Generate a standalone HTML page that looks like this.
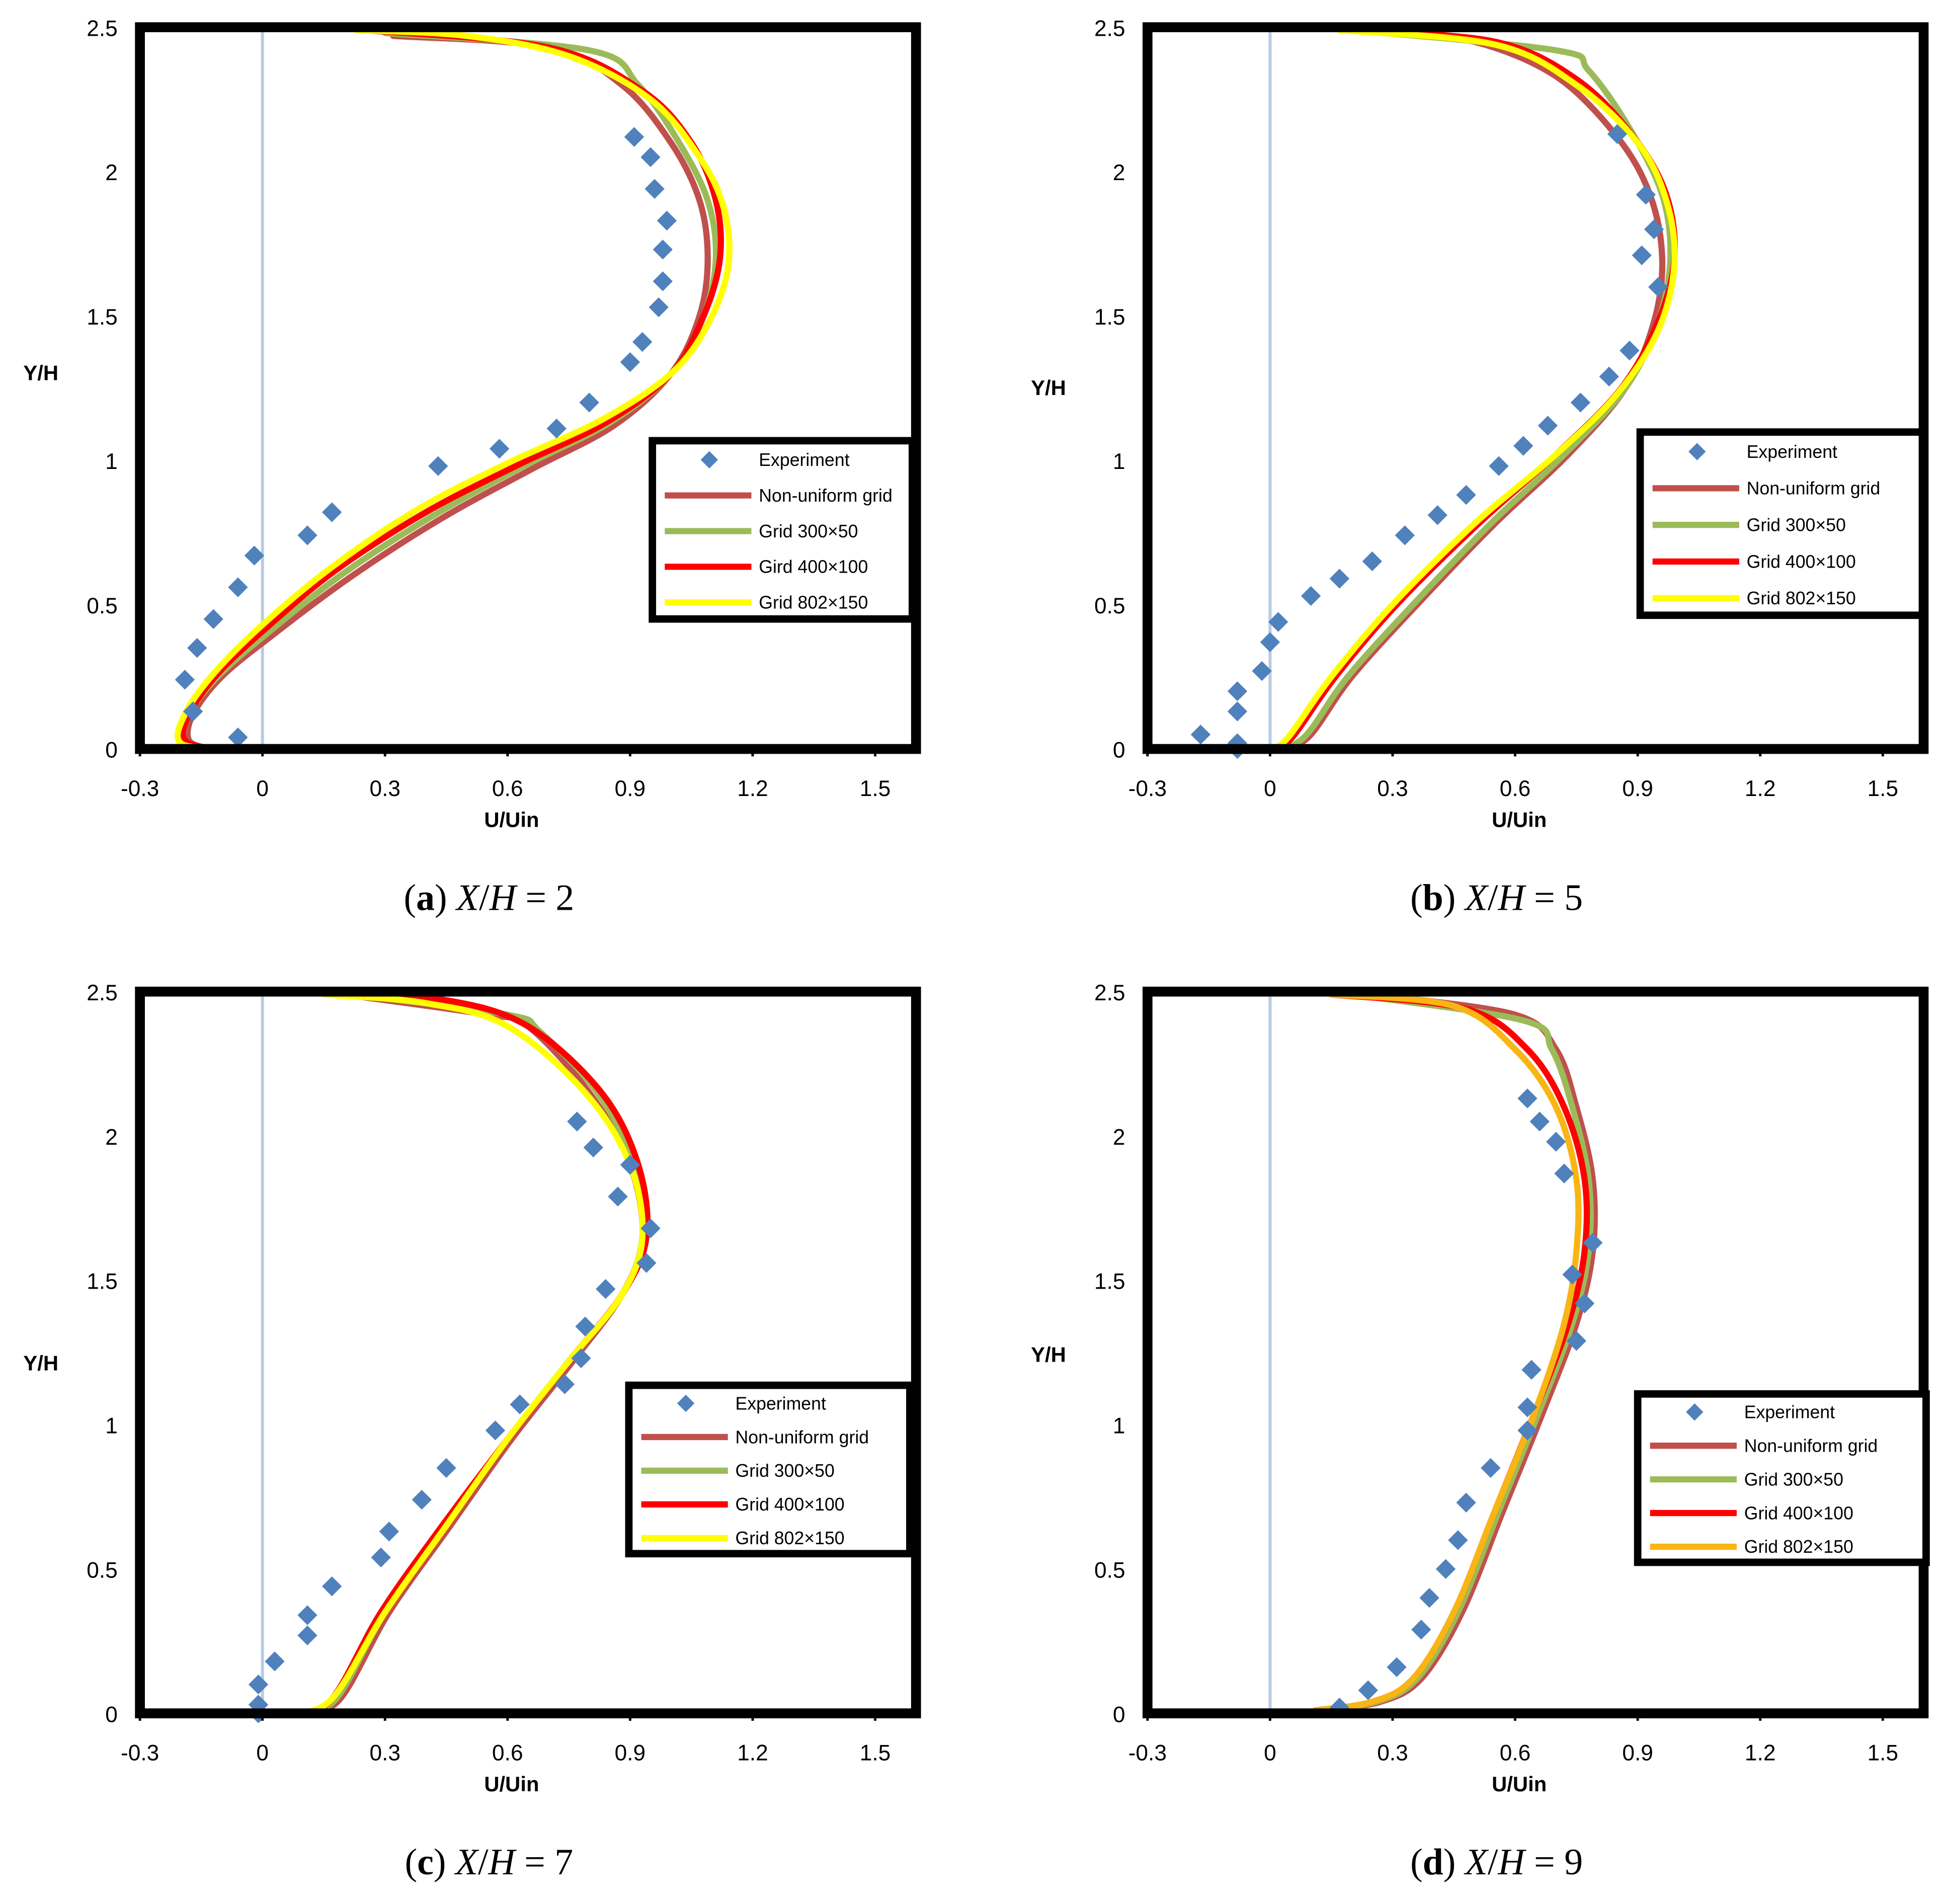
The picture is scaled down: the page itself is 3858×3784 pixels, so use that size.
<!DOCTYPE html>
<html><head><meta charset="utf-8"><style>
html,body{margin:0;padding:0;background:#fff}
svg{display:block}
</style></head><body>
<svg id="fig" width="3858" height="3784" viewBox="0 0 1568 1538" xmlns="http://www.w3.org/2000/svg" font-family="Liberation Sans, sans-serif"></svg>
<script>
const xTicks=[-0.3,0,0.3,0.6,0.9,1.2,1.5];
const yTicks=[0,0.5,1,1.5,2,2.5];
const yTickLabels=["0","0.5","1","1.5","2","2.5"];
const seriesNames=["Non-uniform grid","Grid 300×50","Gird 400×100","Grid 802×150"];
const seriesNamesC=["Non-uniform grid","Grid 300×50","Grid 400×100","Grid 802×150"];
const captionX=["2","5","7","9"];

// Panel a
const expA=[[-0.06,0.04],[-0.17,0.13],[-0.19,0.24],[-0.16,0.35],[-0.12,0.45],[-0.06,0.56],[-0.02,0.67],[0.11,0.74],[0.17,0.82],[0.43,0.98],[0.58,1.04],[0.72,1.11],[0.8,1.2],[0.9,1.34],[0.93,1.41],[0.97,1.53],[0.98,1.62],[0.98,1.73],[0.99,1.83],[0.96,1.94],[0.95,2.05],[0.91,2.12]];
const nuA=[[-0.13,0.0],[-0.18,0.03],[-0.17,0.12],[-0.1,0.25],[0.03,0.4],[0.22,0.6],[0.44,0.8],[0.66,0.97],[0.86,1.12],[1.0,1.3],[1.07,1.5],[1.09,1.7],[1.07,1.9],[1.0,2.1],[0.88,2.3],[0.7,2.43],[0.32,2.47]];
const g300A=[[-0.13,0.0],[-0.19,0.03],[-0.18,0.12],[-0.11,0.25],[0.02,0.41],[0.2,0.61],[0.42,0.81],[0.64,0.98],[0.85,1.13],[1.0,1.3],[1.08,1.5],[1.11,1.7],[1.09,1.9],[1.02,2.1],[0.92,2.3],[0.8,2.42],[0.3,2.48]];
const g400A=[[-0.12,0.0],[-0.19,0.03],[-0.18,0.12],[-0.11,0.26],[0.01,0.42],[0.18,0.62],[0.4,0.82],[0.62,0.98],[0.84,1.13],[1.0,1.3],[1.08,1.5],[1.12,1.7],[1.11,1.9],[1.05,2.1],[0.93,2.28],[0.7,2.43],[0.25,2.49]];
const g802A=[[-0.09,0.0],[-0.2,0.02],[-0.19,0.12],[-0.12,0.26],[0.0,0.43],[0.17,0.63],[0.38,0.83],[0.6,0.99],[0.83,1.14],[1.0,1.3],[1.09,1.47],[1.14,1.67],[1.13,1.87],[1.07,2.05],[0.95,2.25],[0.75,2.4],[0.5,2.47],[0.23,2.49]];
// Panel b
const expB=[[-0.17,0.05],[-0.08,0.0],[-0.08,0.02],[-0.08,0.13],[-0.08,0.2],[-0.02,0.27],[0.0,0.37],[0.02,0.44],[0.1,0.53],[0.17,0.59],[0.25,0.65],[0.33,0.74],[0.41,0.81],[0.48,0.88],[0.56,0.98],[0.62,1.05],[0.68,1.12],[0.76,1.2],[0.83,1.29],[0.88,1.38],[0.95,1.6],[0.91,1.71],[0.94,1.8],[0.92,1.92],[0.85,2.13]];
const nuB=[[0.04,0.0],[0.1,0.05],[0.2,0.25],[0.36,0.5],[0.55,0.78],[0.73,1.02],[0.87,1.25],[0.94,1.48],[0.96,1.7],[0.93,1.92],[0.85,2.12],[0.7,2.33],[0.5,2.45],[0.3,2.48]];
const g300B=[[0.03,0.0],[0.09,0.05],[0.19,0.25],[0.35,0.5],[0.54,0.78],[0.72,1.02],[0.87,1.25],[0.95,1.48],[0.98,1.7],[0.96,1.92],[0.88,2.15],[0.78,2.35],[0.7,2.42],[0.2,2.49]];
const g400B=[[0.02,0.0],[0.06,0.05],[0.16,0.25],[0.31,0.5],[0.51,0.78],[0.7,1.02],[0.86,1.25],[0.95,1.48],[0.99,1.7],[0.97,1.92],[0.89,2.12],[0.75,2.32],[0.55,2.45],[0.2,2.49]];
const g802B=[[0.01,0.0],[0.05,0.05],[0.15,0.25],[0.3,0.5],[0.5,0.78],[0.7,1.02],[0.85,1.23],[0.95,1.45],[0.99,1.68],[0.97,1.9],[0.9,2.1],[0.75,2.3],[0.55,2.44],[0.17,2.49]];
// Panel c
const expC=[[-0.01,0.0],[-0.01,0.03],[-0.01,0.1],[0.03,0.18],[0.11,0.27],[0.11,0.34],[0.17,0.44],[0.29,0.54],[0.31,0.63],[0.39,0.74],[0.45,0.85],[0.57,0.98],[0.63,1.07],[0.74,1.14],[0.78,1.23],[0.79,1.34],[0.84,1.47],[0.94,1.56],[0.95,1.68],[0.87,1.79],[0.9,1.9],[0.81,1.96],[0.77,2.05]];
const nuC=[[0.1,0.0],[0.19,0.05],[0.31,0.35],[0.46,0.65],[0.61,0.95],[0.76,1.22],[0.88,1.45],[0.93,1.65],[0.9,1.9],[0.8,2.15],[0.65,2.38],[0.55,2.42],[0.25,2.48]];
const g300C=[[0.09,0.0],[0.18,0.05],[0.3,0.35],[0.45,0.65],[0.6,0.95],[0.75,1.22],[0.88,1.45],[0.93,1.65],[0.91,1.9],[0.82,2.15],[0.68,2.36],[0.6,2.42],[0.22,2.49]];
const g400C=[[0.08,0.0],[0.17,0.05],[0.29,0.35],[0.44,0.65],[0.6,0.95],[0.75,1.22],[0.88,1.45],[0.94,1.65],[0.92,1.9],[0.83,2.15],[0.65,2.38],[0.45,2.47],[0.2,2.49]];
const g802C=[[0.07,0.0],[0.17,0.05],[0.3,0.35],[0.45,0.65],[0.6,0.95],[0.75,1.22],[0.88,1.45],[0.93,1.65],[0.9,1.9],[0.79,2.15],[0.6,2.38],[0.4,2.46],[0.15,2.49]];
// Panel d
const expD=[[0.17,0.02],[0.24,0.08],[0.31,0.16],[0.37,0.29],[0.39,0.4],[0.43,0.5],[0.46,0.6],[0.48,0.73],[0.54,0.85],[0.63,0.98],[0.63,1.06],[0.64,1.19],[0.75,1.29],[0.77,1.42],[0.74,1.52],[0.79,1.63],[0.72,1.87],[0.7,1.98],[0.66,2.05],[0.63,2.13]];
const nuD=[[0.13,0.01],[0.27,0.04],[0.37,0.12],[0.47,0.35],[0.57,0.7],[0.67,1.05],[0.75,1.35],[0.79,1.6],[0.79,1.85],[0.75,2.1],[0.7,2.3],[0.6,2.42],[0.25,2.49]];
const g300D=[[0.12,0.01],[0.26,0.04],[0.36,0.12],[0.46,0.35],[0.56,0.7],[0.66,1.05],[0.74,1.35],[0.78,1.6],[0.78,1.85],[0.74,2.1],[0.69,2.3],[0.62,2.4],[0.2,2.49]];
const g400D=[[0.11,0.01],[0.25,0.04],[0.35,0.12],[0.45,0.35],[0.55,0.7],[0.65,1.05],[0.73,1.35],[0.77,1.6],[0.77,1.85],[0.72,2.1],[0.63,2.3],[0.48,2.44],[0.15,2.49]];
const g802D=[[0.11,0.01],[0.25,0.04],[0.35,0.12],[0.45,0.35],[0.55,0.7],[0.65,1.05],[0.72,1.35],[0.75,1.6],[0.75,1.85],[0.7,2.1],[0.6,2.3],[0.45,2.45],[0.15,2.49]];

const NS="http://www.w3.org/2000/svg";
const svg=document.getElementById('fig');
function el(tag,attrs,parent){const e=document.createElementNS(NS,tag);for(const k in attrs)e.setAttribute(k,attrs[k]);(parent||svg).appendChild(e);return e;}

const panels=[
 {ox:0,oy:0,exp:expA,ser:[nuA,g300A,g400A,g802A],names:seriesNames,last:"#ffff00",leg:[527,356,737,500],yl:307},
 {ox:814,oy:0,exp:expB,ser:[nuB,g300B,g400B,g802B],names:seriesNamesC,last:"#ffff00",leg:[1325,349,1553,497],yl:319},
 {ox:0,oy:779,exp:expC,ser:[nuC,g300C,g400C,g802C],names:seriesNamesC,last:"#ffff00",leg:[508,1119,735,1255],yl:1107},
 {ox:814,oy:779,exp:expD,ser:[nuD,g300D,g400D,g802D],names:seriesNamesC,last:"#f9b514",leg:[1323,1126,1556,1262],yl:1100}
];
const colors=["#c0504d","#9bbb59","#ff0000"];

function smooth(pts){
 let d="M"+pts[0][0]+","+pts[0][1];
 for(let i=0;i<pts.length-1;i++){
  const p0=pts[i-1]||pts[i],p1=pts[i],p2=pts[i+1],p3=pts[i+2]||p2;
  const c1=[p1[0]+(p2[0]-p0[0])/6,p1[1]+(p2[1]-p0[1])/6];
  const c2=[p2[0]-(p3[0]-p1[0])/6,p2[1]-(p3[1]-p1[1])/6];
  d+=" C"+c1[0]+","+c1[1]+" "+c2[0]+","+c2[1]+" "+p2[0]+","+p2[1];
 }
 return d;
}

panels.forEach((p,pi)=>{
 const g=el('g',{});
 
 
 const X=v=>p.ox+113+(v+0.3)*330;
 const Y=v=>p.oy+605-v*233.2;
 const L=X(-0.3),R=X(1.6),T=Y(2.5),B=Y(0);
 const zl=el('line',{x1:X(0),x2:X(0),y1:T,y2:B,stroke:"#b8cce4","stroke-width":2.5},g);
 
 p.ser.forEach((s,si)=>{
  const pts=s.map(q=>[X(q[0]),Y(q[1])]);
  const path=el('path',{d:smooth(pts),fill:"none",stroke:si<3?colors[si]:p.last,"stroke-width":5,"stroke-linecap":"round"},g);
  
  
 });
 p.exp.forEach(q=>{
  const cx=X(q[0]),cy=Y(q[1]);
  const m=el('polygon',{points:`${cx},${cy-8} ${cx+8},${cy} ${cx},${cy+8} ${cx-8},${cy}`,fill:"#4f81bd"},g);
  
  
 });
 const fr=el('rect',{x:L,y:T,width:R-L,height:B-T,fill:"none",stroke:"#000","stroke-width":8},g);
 
 xTicks.forEach(t=>{
  el('line',{x1:X(t),x2:X(t),y1:B,y2:B+6,stroke:"#000","stroke-width":2},g);
  const tx=el('text',{x:X(t),y:B+38,"font-size":18,"text-anchor":"middle",fill:"#000"},g);
  tx.textContent=String(t);
  
 });
 yTicks.forEach((t,i)=>{
  const ty=el('text',{x:L-18,y:Y(t)+7,"font-size":18,"text-anchor":"end",fill:"#000"},g);
  ty.textContent=yTickLabels[i];
  
 });
 const xt=el('text',{x:X(0.61),y:B+63,"font-size":17,"font-weight":"bold","text-anchor":"middle"},g);
 xt.textContent="U/Uin";
 const yt=el('text',{x:p.ox+33,y:p.yl,"font-size":17,"font-weight":"bold","text-anchor":"middle"},g);
 yt.textContent="Y/H";
 const [lx1,ly1,lx2,ly2]=p.leg;
 const lg=el('g',{},g);
 
 el('rect',{x:lx1,y:ly1,width:lx2-lx1,height:ly2-ly1,fill:"#fff",stroke:"#000","stroke-width":6},lg);
 const step=(ly2-ly1)/5;
 const labels=["Experiment"].concat(p.names);
 labels.forEach((lab,i)=>{
  const cy=ly1+step*(i+0.5)+1;
  if(i===0){const cx=lx1+46;el('polygon',{points:`${cx},${cy-7} ${cx+7},${cy} ${cx},${cy+7} ${cx-7},${cy}`,fill:"#4f81bd"},lg);}
  else el('line',{x1:lx1+10,x2:lx1+80,y1:cy,y2:cy,stroke:i<4?colors[i-1]:p.last,"stroke-width":5},lg);
  const t=el('text',{x:lx1+86,y:cy+5,"font-size":14.5},lg);
  t.textContent=lab;
  
 });
 const cap=el('text',{x:p.ox+395,y:p.oy+735,"font-size":30,"text-anchor":"middle","font-family":"Liberation Serif, serif"},g);
 
 cap.innerHTML=`(<tspan font-weight="bold">${"abcd"[pi]}</tspan>) <tspan font-style="italic">X</tspan>/<tspan font-style="italic">H</tspan> = ${captionX[pi]}`;
});
</script>
</body></html>
